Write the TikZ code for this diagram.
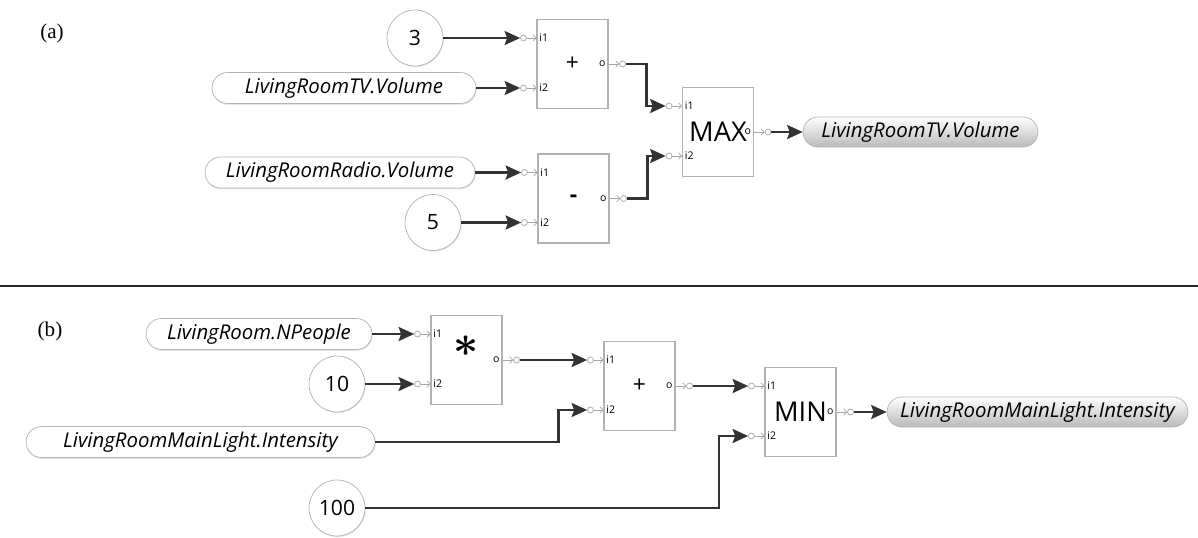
\documentclass[tikz,border=0pt]{standalone}
\usepackage{amsmath}
\usepackage{fontspec}
\setmainfont{Open Sans}
\newfontfamily\capfont{Liberation Serif}
\usetikzlibrary{arrows.meta, calc, shadows}

\begin{document}
\begin{tikzpicture}[
    x=0.02cm, y=-0.02cm,
    opbox/.style={rectangle, draw=gray!60, line width=0.6pt, fill=white, minimum width=1.42cm, minimum height=1.78cm, inner sep=0pt},
    value/.style={circle, draw=gray!60, fill=white, minimum size=1.12cm, inner sep=0pt, font=\fontsize{12}{13}\selectfont, drop shadow={opacity=0.2, shadow xshift=0.4pt, shadow yshift=-0.6pt}},
    varpill/.style={rectangle, rounded corners=0.31cm, draw=gray!60, fill=white, minimum height=0.62cm, inner sep=0pt, font=\fontsize{11.6}{12}\selectfont\itshape, drop shadow={opacity=0.2, shadow xshift=0.4pt, shadow yshift=-0.8pt}},
    outpill/.style={rectangle, rounded corners=0.3cm, draw=gray!60, top color=white, middle color=gray!12, bottom color=gray!55, minimum height=0.6cm, inner sep=0pt, font=\fontsize{11.6}{12}\selectfont\itshape},
    port/.style={circle, draw=gray!70, fill=white, minimum size=0.12cm, inner sep=0pt, line width=0.4pt},
    portarrow/.style={-{Straight Barb[length=0.6mm, width=1.3mm]}, gray!70, line width=0.4pt},
    portlabel/.style={font=\fontsize{6}{7}\selectfont, inner sep=1.5pt},
    wire/.style={-{Stealth[length=3.1mm, width=2.8mm, inset=0.5mm]}, line width=1.4pt, draw=black!80},
    panel/.style={font=\capfont\fontsize{12}{14}\selectfont}
]
\useasboundingbox (0,0) rectangle (1198,538);

% ===== (a) =====
\node[panel] (labA) at (52,33) {(a)};

\node[opbox, font=\fontsize{13}{15}\selectfont] (plusA) at (572.5,64) {+};
\node[opbox, font=\fontsize{13}{15}\selectfont\bfseries] (minusA) at (573.5,198.5) {-};
\node[opbox, font=\fontsize{15.5}{17}\selectfont] (maxA) at (718,132) {MAX};

\node[value] (c3) at (415,38) {3};
\node[varpill, minimum width=5.28cm] (pillTV) at (344,88) {LivingRoomTV.Volume};
\node[varpill, minimum width=5.4cm] (pillRadio) at (340,172.5) {LivingRoomRadio.Volume};
\node[value] (c5) at (433,222.5) {5};
\node[outpill, minimum width=4.7cm] (outTV) at (920.5,132) {LivingRoomTV.Volume};

% separator
\draw[line width=1.2pt, black!85] (0,286) -- (1198,286);

% ===== (b) =====
\node[panel] (labB) at (50,331) {(b)};

\node[opbox, label={[font=\fontsize{32}{32}\selectfont, yshift=0.27cm]center:$\boldsymbol{\ast}$}] (mult) at (466.5,360) {};
\node[opbox, font=\fontsize{13}{15}\selectfont] (plusB) at (639.5,386) {+};
\node[opbox, font=\fontsize{15.5}{17}\selectfont] (minB) at (800.5,412) {MIN};

\node[varpill, minimum width=4.52cm] (pillNP) at (259,334) {LivingRoom.NPeople};
\node[value] (c10) at (337,384) {10};
\node[varpill, minimum width=6.98cm] (pillInt) at (200.5,442) {LivingRoomMainLight.Intensity};
\node[value] (c100) at (337,508) {100};
\node[outpill, minimum width=6.02cm] (outInt) at (1037.5,412) {LivingRoomMainLight.Intensity};

% ports of every block
\foreach \b in {plusA,minusA,maxA,mult,plusB,minB} {
    \foreach \p/\dy in {i1/-26, i2/24} {
        \node[port] (\b-\p) at ($(\b.west)+(-13,\dy)$) {};
        \draw[portarrow] (\b-\p) -- (\b-\p -| \b.west);
        \node[portlabel, anchor=west] at (\b-\p -| \b.west) {\p};
    }
    \node[port] (\b-o) at ($(\b.east)+(14,0)$) {};
    \draw[portarrow] (\b.east) -- (\b-o);
    \node[portlabel, anchor=east] at (\b.east) {o};
}

% ===== wires (a) =====
\draw[wire] (c3) -- (plusA-i1);
\draw[wire] (pillTV) -- (plusA-i2);
\draw[wire] (pillRadio) -- (minusA-i1);
\draw[wire] (c5) -- (minusA-i2);
\draw[wire] (plusA-o) -- ++(24,0) |- (maxA-i1);
\draw[wire] (minusA-o) -- ++(24,0) |- (maxA-i2);
\draw[wire] (maxA-o) -- (outTV);

% ===== wires (b) =====
\draw[wire] (pillNP) -- (mult-i1);
\draw[wire] (c10) -- (mult-i2);
\draw[wire] (mult-o) -- (plusB-i1);
\draw[wire] (pillInt) -- ++(358,0) |- (plusB-i2);
\draw[wire] (plusB-o) -- (minB-i1);
\draw[wire] (c100) -- ++(382,0) |- (minB-i2);
\draw[wire] (minB-o) -- (outInt);

\end{tikzpicture}
\end{document}
